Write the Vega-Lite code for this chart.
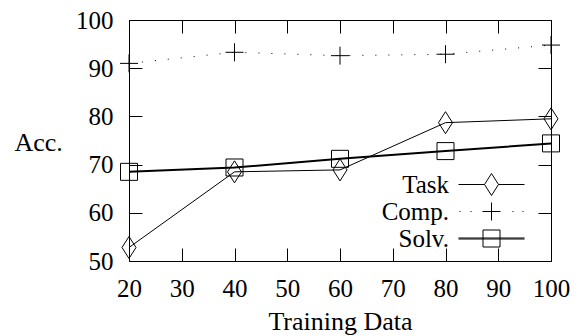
{
  "$schema": "https://vega.github.io/schema/vega-lite/v6.json",
  "width": 422,
  "height": 241,
  "autosize": {"type": "none"},
  "padding": {"left": 129, "top": 20, "right": 31, "bottom": 75},
  "background": "white",
  "config": {
    "view": {"stroke": "black", "strokeWidth": 1},
    "font": "Liberation Serif",
    "axis": {
      "grid": false,
      "domain": false,
      "tickColor": "black",
      "tickSize": 13,
      "offset": -13,
      "labelColor": "black",
      "labelFont": "Liberation Serif",
      "labelFontSize": 25,
      "labelFlush": false,
      "labelOverlap": false,
      "titleFont": "Liberation Serif",
      "titleFontSize": 26,
      "titleFontWeight": "normal",
      "titleColor": "black"
    },
    "legend": {
      "labelFont": "Liberation Serif",
      "labelFontSize": 25,
      "labelColor": "black"
    }
  },
  "data": {
    "values": [
      {"series": "Task", "x": 20, "y": 52.8},
      {"series": "Task", "x": 40, "y": 68.5},
      {"series": "Task", "x": 60, "y": 68.9},
      {"series": "Task", "x": 80, "y": 78.7},
      {"series": "Task", "x": 100, "y": 79.5},
      {"series": "Comp.", "x": 20, "y": 91.0},
      {"series": "Comp.", "x": 40, "y": 93.3},
      {"series": "Comp.", "x": 60, "y": 92.6},
      {"series": "Comp.", "x": 80, "y": 92.9},
      {"series": "Comp.", "x": 100, "y": 94.8},
      {"series": "Solv.", "x": 20, "y": 68.5},
      {"series": "Solv.", "x": 40, "y": 69.4},
      {"series": "Solv.", "x": 60, "y": 71.2},
      {"series": "Solv.", "x": 80, "y": 72.8},
      {"series": "Solv.", "x": 100, "y": 74.4}
    ]
  },
  "layer": [
    {
      "transform": [{"filter": "datum.series === 'Task'"}],
      "mark": {"type": "line", "color": "black", "strokeWidth": 1, "clip": false},
      "encoding": {
        "x": {
          "field": "x", "type": "quantitative",
          "scale": {"domain": [20, 100], "nice": false, "zero": false},
          "axis": {"orient": "bottom", "values": [20, 30, 40, 50, 60, 70, 80, 90, 100], "labelPadding": 15, "title": "Training Data", "titleY": 81, "titleBaseline": "alphabetic"}
        },
        "y": {
          "field": "y", "type": "quantitative",
          "scale": {"domain": [50, 100], "nice": false, "zero": false},
          "axis": {"orient": "left", "values": [50, 60, 70, 80, 90, 100], "labelPadding": 16, "title": "Acc.", "titleAngle": 0, "titleX": -128, "titleY": 130, "titleAlign": "left", "titleBaseline": "alphabetic"}
        }
      }
    },
    {
      "transform": [{"filter": "datum.series === 'Comp.'"}],
      "mark": {"type": "line", "color": "black", "strokeWidth": 1, "strokeDash": [1, 12], "clip": false},
      "encoding": {
        "x": {"field": "x", "type": "quantitative", "axis": null},
        "y": {"field": "y", "type": "quantitative", "axis": null}
      }
    },
    {
      "transform": [{"filter": "datum.series === 'Solv.'"}],
      "mark": {"type": "line", "color": "black", "strokeWidth": 2, "clip": false},
      "encoding": {
        "x": {"field": "x", "type": "quantitative", "axis": null},
        "y": {"field": "y", "type": "quantitative", "axis": null}
      }
    },
    {
      "mark": {"type": "point", "filled": false, "color": "black", "strokeWidth": 1, "size": 4, "opacity": 1, "clip": false},
      "encoding": {
        "x": {
          "field": "x", "type": "quantitative",
          "axis": {"orient": "top", "values": [20, 30, 40, 50, 60, 70, 80, 90, 100], "labels": false, "title": null}
        },
        "y": {
          "field": "y", "type": "quantitative",
          "axis": {"orient": "right", "values": [50, 60, 70, 80, 90, 100], "labels": false, "title": null}
        },
        "shape": {
          "field": "series", "type": "nominal",
          "scale": {
            "domain": ["Task", "Comp.", "Solv."],
            "range": ["M0,-11L7,0L0,11L-7,0Z", "M-9,0H9M0,-9V9", "M-8.5,-8.5H8.5V8.5H-8.5Z"]
          },
          "legend": null
        }
      }
    },
    {
      "transform": [{"filter": "false"}],
      "mark": {"type": "point", "filled": false, "color": "black", "strokeWidth": 1, "size": 4, "opacity": 1},
      "encoding": {
        "x": {"field": "x", "type": "quantitative", "axis": null},
        "y": {"field": "y", "type": "quantitative", "axis": null},
        "shape": {
          "field": "series", "type": "nominal",
          "scale": {
            "domain": ["Task", "Comp.", "Solv."],
            "range": [
              "M-33,0H-7M7,0H33M0,-11L7,0L0,11L-7,0Z",
              "M-32,0h1M-21,0h1M21,0h1M31,0h1M-9,0H9M0,-9V9",
              "M-33,-0.5H33M-33,0.5H33M-8.5,-8.5H8.5V8.5H-8.5Z"
            ]
          },
          "legend": {
            "title": null,
            "orient": "none",
            "legendX": 350,
            "legendY": 152,
            "padding": 0,
            "symbolSize": 4,
            "symbolStrokeColor": "black",
            "symbolStrokeWidth": 1,
            "labelAlign": "right",
            "labelOffset": -55,
            "rowPadding": 1
          }
        }
      }
    }
  ],
  "resolve": {
    "axis": {"x": "independent", "y": "independent"},
    "scale": {"shape": "independent"}
  }
}
